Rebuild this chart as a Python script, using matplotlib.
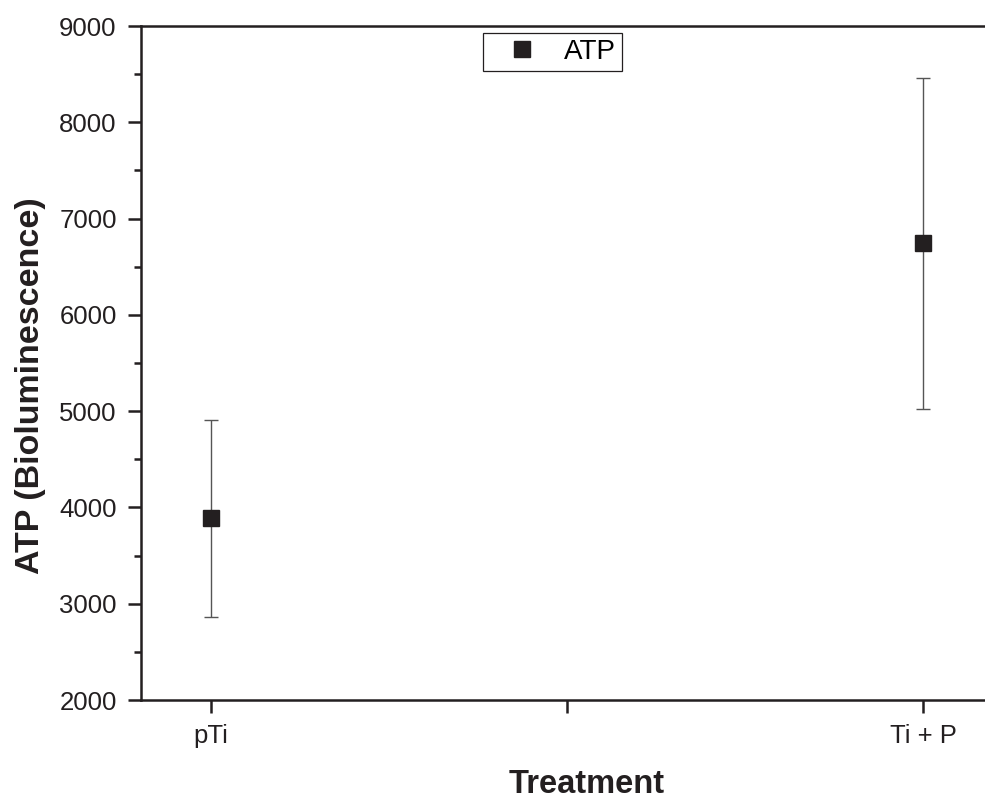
import numpy as np
import matplotlib
matplotlib.use("Agg")
import matplotlib.pyplot as plt
from matplotlib.ticker import MultipleLocator

# data
treatments = ["pTi", "Ti + P"]
atp_mean = [3888, 6745]
atp_err = [1023, 1720]

plt.rcParams['font.family'] = ['Liberation Sans', 'DejaVu Sans']

fig = plt.figure(figsize=(9.85, 8.0), dpi=100)
ax = fig.add_axes([141/985, 100/800, (993-141)/985, (700-26)/800])

x = np.arange(1, len(treatments) + 1)
ax.errorbar(x, atp_mean, yerr=atp_err, fmt='none', ecolor='#555555',
            elinewidth=1.0, capsize=5, capthick=1.0, zorder=2)
ax.plot(x, atp_mean, 's', color='#231f20', markersize=11, label='ATP', zorder=3)

ax.set_xlim(0.9017, 2.0983)
ax.set_ylim(2000, 9000)
ax.set_xticks([1, 1.5, 2])
ax.set_xticklabels([treatments[0], '', treatments[1]])
ax.yaxis.set_major_locator(MultipleLocator(1000))
ax.yaxis.set_minor_locator(MultipleLocator(500))

for s in ax.spines.values():
    s.set_linewidth(1.8)
    s.set_color('#231f20')

ax.tick_params(axis='both', which='major', direction='out', length=9.5, width=1.8,
               color='#231f20', labelsize=18.5, labelcolor='#231f20', pad=8)
ax.tick_params(axis='y', which='minor', direction='out', length=5, width=1.8, color='#231f20')

ax.set_xlabel('Treatment', fontsize=23.5, fontweight='bold', color='#231f20')
ax.set_ylabel('ATP (Bioluminescence)', fontsize=24.5, fontweight='bold', color='#231f20')
ax.xaxis.set_label_coords(0.5235, -0.103)
ax.yaxis.set_label_coords(-0.112, 0.467)

leg = ax.legend(loc='upper center', bbox_to_anchor=(0.483, 1 - 7/674), fontsize=20,
                frameon=True, fancybox=False, edgecolor='#231f20', handlelength=2.4,
                handletextpad=0.3, borderpad=0.22, numpoints=1, borderaxespad=0,
                markerscale=1.0)
leg.get_frame().set_linewidth(0.9)
leg.get_frame().set_alpha(1)

fig.savefig('out.png', dpi=100)
